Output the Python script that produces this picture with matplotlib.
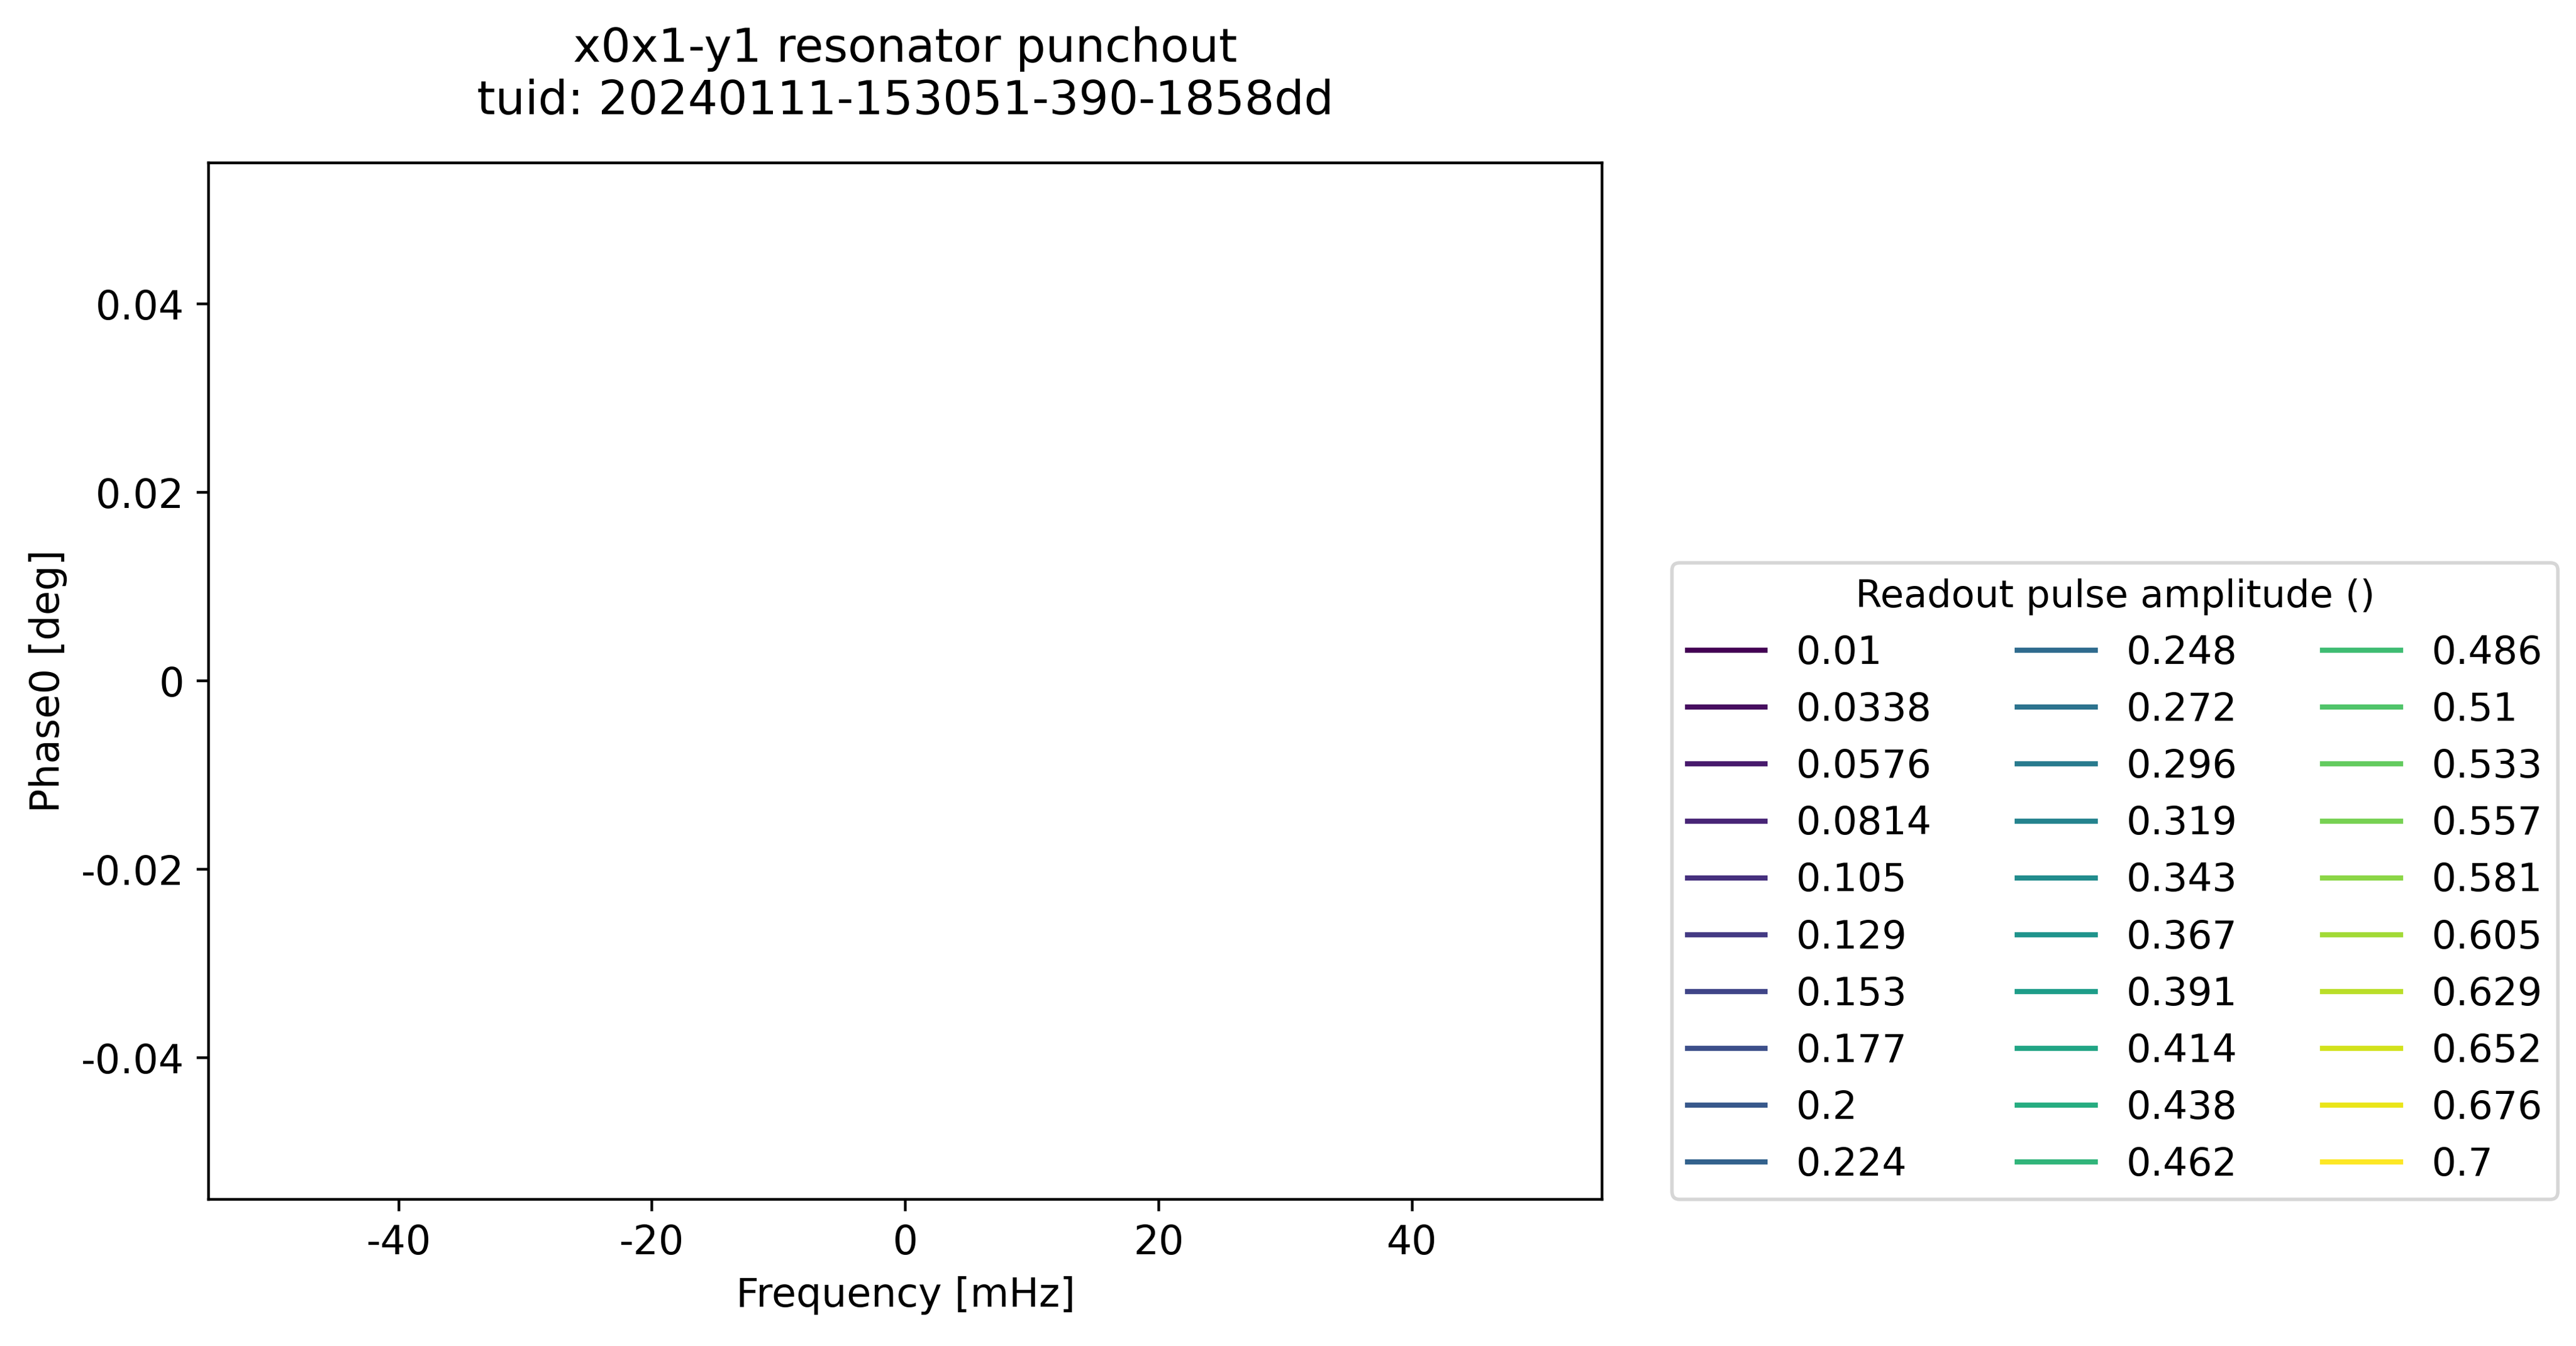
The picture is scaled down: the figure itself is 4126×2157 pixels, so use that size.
import matplotlib
matplotlib.use("Agg")
import matplotlib.pyplot as plt
from matplotlib.ticker import FuncFormatter
import numpy as np

plt.rcParams['axes.unicode_minus'] = False

amplitudes = [0.01, 0.0338, 0.0576, 0.0814, 0.105, 0.129, 0.153, 0.177, 0.2, 0.224,
              0.248, 0.272, 0.296, 0.319, 0.343, 0.367, 0.391, 0.414, 0.438, 0.462,
              0.486, 0.51, 0.533, 0.557, 0.581, 0.605, 0.629, 0.652, 0.676, 0.7]
freq = []   # no valid data in the measurement
phase = []

fig = plt.figure(figsize=(10.315, 5.3925), dpi=400)
ax = fig.add_axes([0.081, 0.109, 0.541, 0.770])

cmap = plt.get_cmap("viridis")
for i, a in enumerate(amplitudes):
    ax.plot(freq, phase, color=cmap(i / (len(amplitudes) - 1)), label=f"{a:g}")

ax.set_xlim(-55, 55)
ax.set_ylim(-0.055, 0.055)
ax.set_xticks([-40, -20, 0, 20, 40])
ax.set_yticks([-0.04, -0.02, 0, 0.02, 0.04])
ax.yaxis.set_major_formatter(FuncFormatter(lambda v, p: f"{v:g}"))
ax.tick_params(labelsize=11.5)
ax.set_xlabel("Frequency [mHz]", fontsize=11.5)
ax.set_ylabel("Phase0 [deg]", fontsize=11.5)
ax.set_title("x0x1-y1 resonator punchout\ntuid: 20240111-153051-390-1858dd", fontsize=13.5, pad=14)

ax.legend(title="Readout pulse amplitude ()", ncol=3, loc="lower left",
          bbox_to_anchor=(1.05, 0), borderaxespad=0, fontsize=11.2, title_fontsize=11,
          columnspacing=2.2)

fig.savefig("out.png", dpi=400)
